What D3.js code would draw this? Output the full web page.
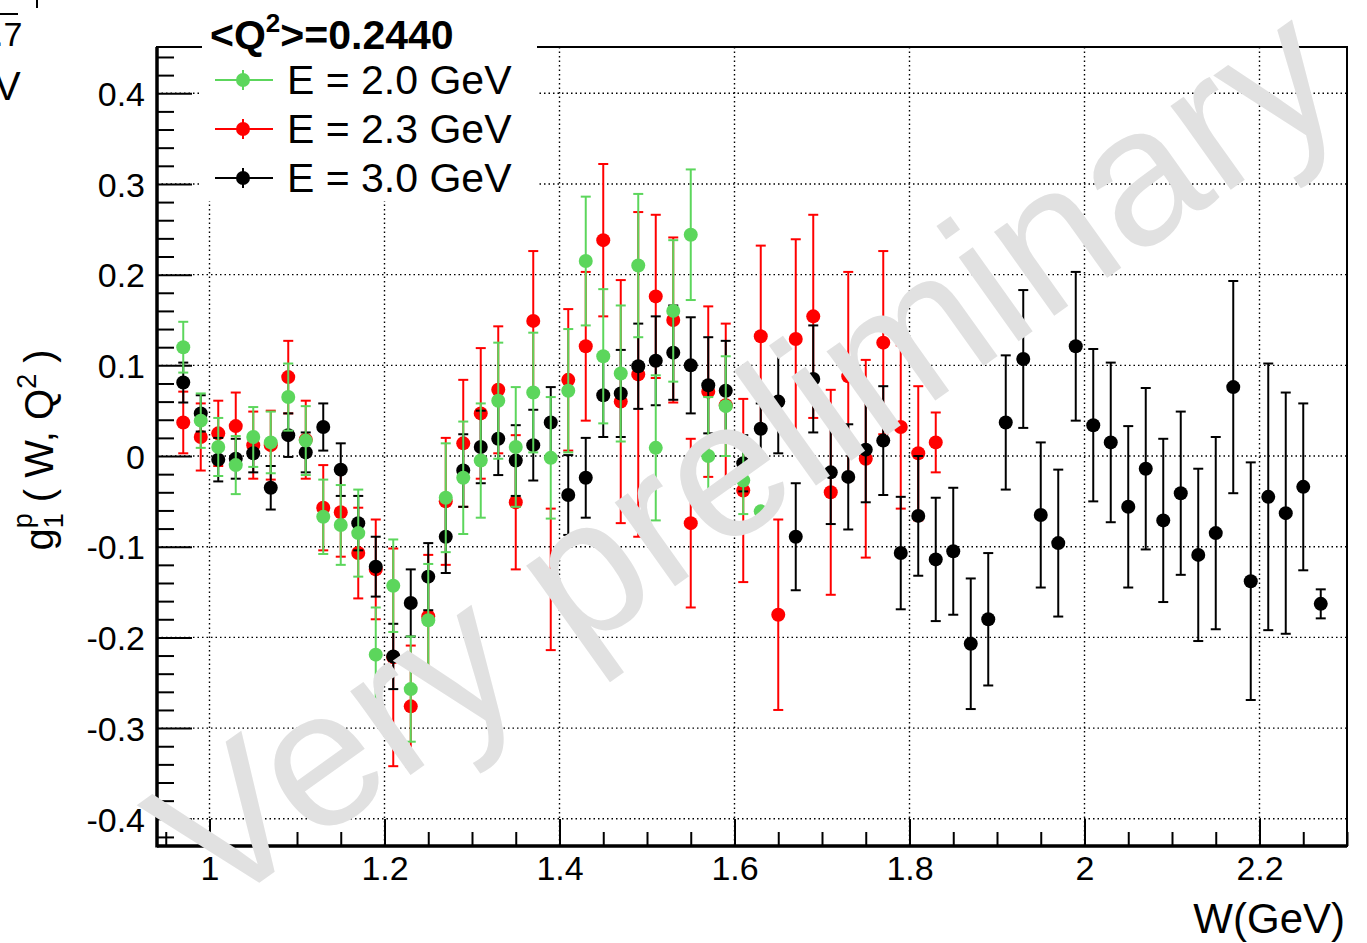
<!DOCTYPE html>
<html>
<head>
<meta charset="utf-8">
<script src="https://cdn.jsdelivr.net/npm/d3@7"></script>
<style>
  body { margin: 0; background: #fff; }
  svg text { font-family: "Liberation Sans", Arial, Helvetica, sans-serif; }
</style>
</head>
<body>
<svg id="chart" width="1367" height="943"></svg>
<script>
// W bin centres (GeV), shared by all three beam energies
const wBins = [0.97, 0.99, 1.01, 1.03, 1.05, 1.07, 1.09, 1.11, 1.13, 1.15, 1.17, 1.19, 1.21, 1.23, 1.25, 1.27, 1.29,
  1.31, 1.33, 1.35, 1.37, 1.39, 1.41, 1.43, 1.45, 1.47, 1.49, 1.51, 1.53, 1.55, 1.57, 1.59, 1.61, 1.63, 1.65, 1.67,
  1.69, 1.71, 1.73, 1.75, 1.77, 1.79, 1.81, 1.83, 1.85, 1.87, 1.89, 1.91, 1.93, 1.95, 1.97, 1.99, 2.01, 2.03, 2.05,
  2.07, 2.09, 2.11, 2.13, 2.15, 2.17, 2.19, 2.21, 2.23, 2.25, 2.27];

// E = 2.0 GeV
const g1Green = [0.120, 0.039, 0.010, -0.010, 0.021, 0.015, 0.065, 0.017, -0.067, -0.076, -0.085, -0.219, -0.143,
  -0.257, -0.181, -0.046, -0.024, -0.005, 0.061, 0.010, 0.070, -0.002, 0.072, 0.215, 0.110, 0.091, 0.210, 0.009,
  0.160, 0.244, 0.000, 0.055, -0.027, -0.061];
const errGreen = [0.028, 0.030, 0.032, 0.032, 0.033, 0.034, 0.037, 0.038, 0.041, 0.044, 0.048, 0.052, 0.051, 0.058,
  0.062, 0.060, 0.062, 0.063, 0.064, 0.066, 0.066, 0.067, 0.068, 0.071, 0.074, 0.075, 0.079, 0.080, 0.078, 0.072,
  0.065, 0.055, 0.037, 0.004];

// E = 2.3 GeV
const g1Red = [0.037, 0.021, 0.025, 0.033, 0.012, 0.012, 0.087, 0.018, -0.057, -0.062, -0.107, -0.125, -0.222,
  -0.276, -0.177, -0.050, 0.014, 0.047, 0.073, -0.051, 0.149, -0.136, 0.084, 0.121, 0.238, 0.060, 0.090, 0.176,
  0.150, -0.074, 0.071, 0.056, -0.038, 0.132, -0.175, 0.129, 0.154, -0.040, 0.088, -0.003, 0.125, 0.032, 0.003, 0.015];
const errRed = [0.034, 0.037, 0.036, 0.037, 0.037, 0.038, 0.040, 0.043, 0.047, 0.049, 0.050, 0.055, 0.120, 0.067,
  0.068, 0.070, 0.070, 0.072, 0.070, 0.074, 0.077, 0.078, 0.078, 0.082, 0.084, 0.134, 0.179, 0.090, 0.091, 0.093,
  0.094, 0.090, 0.101, 0.100, 0.105, 0.110, 0.112, 0.113, 0.115, 0.109, 0.101, 0.090, 0.074, 0.033];

// E = 3.0 GeV
const g1Black = [0.081, 0.047, -0.004, -0.003, 0.003, -0.035, 0.023, 0.004, 0.032, -0.015, -0.074, -0.122, -0.221,
  -0.162, -0.133, -0.089, -0.016, 0.010, 0.019, -0.005, 0.012, 0.037, -0.043, -0.024, 0.067, 0.069, 0.099, 0.105,
  0.114, 0.100, 0.078, 0.072, -0.008, 0.030, 0.060, -0.089, 0.085, -0.018, -0.023, 0.007, 0.017, -0.107, -0.066,
  -0.114, -0.105, -0.207, -0.180, 0.037, 0.107, -0.065, -0.096, 0.121, 0.034, 0.015, -0.056, -0.014, -0.071, -0.041,
  -0.109, -0.085, 0.076, -0.138, -0.045, -0.063, -0.034, -0.163];
const errBlack = [0.022, 0.020, 0.024, 0.022, 0.021, 0.024, 0.024, 0.022, 0.026, 0.029, 0.030, 0.033, 0.036, 0.037,
  0.037, 0.040, 0.040, 0.040, 0.040, 0.039, 0.039, 0.039, 0.044, 0.044, 0.046, 0.048, 0.047, 0.049, 0.052, 0.053,
  0.053, 0.055, 0.031, 0.028, 0.057, 0.059, 0.059, 0.057, 0.058, 0.058, 0.060, 0.062, 0.066, 0.068, 0.070, 0.072,
  0.073, 0.074, 0.076, 0.080, 0.081, 0.082, 0.084, 0.088, 0.089, 0.089, 0.090, 0.090, 0.095, 0.106, 0.117, 0.131,
  0.147, 0.133, 0.092, 0.016];

const seriesNames = ['E = 2.0 GeV', 'E = 2.3 GeV', 'E = 3.0 GeV'];
const seriesColors = ['#5cd65c', '#ff0000', '#000000'];
const legendTitle = '0.2440';

const xMajor = [1, 1.2, 1.4, 1.6, 1.8, 2, 2.2];
const xMinor = [0.95, 1.05, 1.1, 1.15, 1.25, 1.3, 1.35, 1.45, 1.5, 1.55, 1.65, 1.7, 1.75, 1.85, 1.9, 1.95, 2.05, 2.1,
  2.15, 2.25, 2.3];
const yMajor = [-0.4, -0.3, -0.2, -0.1, 0, 0.1, 0.2, 0.3, 0.4];
const yMinor = [-0.42, -0.38, -0.36, -0.34, -0.32, -0.28, -0.26, -0.24, -0.22, -0.18, -0.16, -0.14, -0.12, -0.08,
  -0.06, -0.04, -0.02, 0.02, 0.04, 0.06, 0.08, 0.12, 0.14, 0.16, 0.18, 0.22, 0.24, 0.26, 0.28, 0.32, 0.34, 0.36,
  0.38, 0.42, 0.44];

function buildSeries(values, errors) {
  return values.map((v, i) => ({ w: wBins[i], v: v, e: errors[i] }));
}

// ROOT style labels: plain hyphen, "0" instead of "0.0"
function yLabel(d) {
  return d === 0 ? '0' : d3.format('.1f')(d).replace('\u2212', '-');
}

function drawChart() {
  const svg = d3.select('#chart');
  const frame = { left: 157, right: 1347, top: 47, bottom: 846 };

  const x = d3.scaleLinear().domain([0.94, 2.30]).range([frame.left, frame.right]);
  const y = d3.scaleLinear().domain([-0.430, 0.451]).range([frame.bottom, frame.top]);

  // dotted grid
  const grid = svg.append('g').attr('stroke', '#000').attr('stroke-width', 1.4).attr('stroke-dasharray', '1.5,3');
  grid.selectAll('.gx').data(xMajor).enter().append('line')
    .attr('x1', d => x(d)).attr('x2', d => x(d)).attr('y1', frame.top).attr('y2', frame.bottom);
  grid.selectAll('.gy').data(yMajor).enter().append('line')
    .attr('x1', frame.left).attr('x2', frame.right).attr('y1', d => y(d)).attr('y2', d => y(d));

  // axes, ROOT style: ticks pointing into the frame
  const yAxis = svg.append('g').attr('transform', `translate(${frame.left},0)`)
    .call(d3.axisLeft(y).tickValues(yMajor).tickSize(-35).tickPadding(12).tickFormat(yLabel));
  svg.append('g').attr('transform', `translate(${frame.left},0)`)
    .call(d3.axisLeft(y).tickValues(yMinor).tickSize(-17).tickFormat(''));
  svg.append('g').attr('transform', `translate(0,${frame.bottom})`)
    .call(d3.axisBottom(x).tickValues(xMajor).tickSize(-27).tickPadding(10).tickFormat(d => String(d)));
  svg.append('g').attr('transform', `translate(0,${frame.bottom})`)
    .call(d3.axisBottom(x).tickValues(xMinor).tickSize(-14).tickFormat(''));

  svg.selectAll('.domain').remove();
  svg.selectAll('.tick line').attr('stroke', '#000').attr('stroke-width', 2);
  svg.selectAll('.tick text').attr('font-size', 34).attr('fill', '#000')
    .attr('font-family', '"Liberation Sans", Arial, sans-serif');
  yAxis.selectAll('.tick text').attr('dy', '0.36em');

  // frame
  svg.append('rect')
    .attr('x', frame.left).attr('y', frame.top)
    .attr('width', frame.right - frame.left).attr('height', frame.bottom - frame.top)
    .attr('fill', 'none').attr('stroke', '#000').attr('stroke-width', 2);
  svg.append('line').attr('x1', frame.left).attr('x2', frame.left).attr('y1', frame.top).attr('y2', frame.bottom + 1.5)
    .attr('stroke', '#000').attr('stroke-width', 3.5);
  svg.append('line').attr('x1', frame.left).attr('x2', frame.right).attr('y1', frame.bottom).attr('y2', frame.bottom)
    .attr('stroke', '#000').attr('stroke-width', 3.5);

  // data with error bars
  const sets = [
    { color: seriesColors[1], data: buildSeries(g1Red, errRed) },
    { color: seriesColors[2], data: buildSeries(g1Black, errBlack) },
    { color: seriesColors[0], data: buildSeries(g1Green, errGreen) }
  ];
  sets.forEach(s => {
    const g = svg.append('g').attr('stroke', s.color).attr('fill', s.color).attr('stroke-width', 2);
    const pts = g.selectAll('.pt').data(s.data).enter().append('g');
    pts.append('line')
      .attr('x1', d => x(d.w)).attr('x2', d => x(d.w))
      .attr('y1', d => y(d.v + d.e)).attr('y2', d => y(d.v - d.e));
    pts.append('line')
      .attr('x1', d => x(d.w) - 5).attr('x2', d => x(d.w) + 5)
      .attr('y1', d => y(d.v + d.e)).attr('y2', d => y(d.v + d.e));
    pts.append('line')
      .attr('x1', d => x(d.w) - 5).attr('x2', d => x(d.w) + 5)
      .attr('y1', d => y(d.v - d.e)).attr('y2', d => y(d.v - d.e));
    pts.append('circle')
      .attr('cx', d => x(d.w)).attr('cy', d => y(d.v)).attr('r', 7).attr('stroke', 'none');
  });

  // watermark, painted over the data
  svg.append('text')
    .attr('x', 214).attr('y', 915)
    .attr('transform', 'rotate(-35.5,214,915)')
    .attr('font-size', 195)
    .attr('fill', '#e1e1e1')
    .text('Very preliminary');

  // legend box
  const leg = svg.append('g');
  leg.append('rect').attr('x', 202).attr('y', 8).attr('width', 335).attr('height', 193).attr('fill', '#fff');
  leg.append('text').attr('x', 210).attr('y', 49).attr('font-size', 41).attr('font-weight', 'bold')
    .call(t => {
      t.append('tspan').text('<Q');
      t.append('tspan').attr('font-size', 26).attr('dy', -17).text('2');
      t.append('tspan').attr('dy', 17).text('>=' + legendTitle);
    });
  const rows = [80, 129, 178];
  seriesNames.forEach((name, i) => {
    const cy = rows[i];
    leg.append('line').attr('x1', 215).attr('x2', 273).attr('y1', cy).attr('y2', cy)
      .attr('stroke', seriesColors[i]).attr('stroke-width', 2);
    leg.append('line').attr('x1', 243).attr('x2', 243).attr('y1', cy - 10).attr('y2', cy + 10)
      .attr('stroke', seriesColors[i]).attr('stroke-width', 2);
    leg.append('circle').attr('cx', 243).attr('cy', cy).attr('r', 7).attr('fill', seriesColors[i]);
    leg.append('text').attr('x', 287).attr('y', cy + 14).attr('font-size', 41).text(name);
  });

  // axis titles
  svg.append('text').attr('x', 1345).attr('y', 933).attr('text-anchor', 'end').attr('font-size', 42).text('W(GeV)');
  svg.append('text').attr('transform', 'translate(53,450) rotate(-90)').attr('text-anchor', 'middle')
    .attr('font-size', 40)
    .call(t => {
      t.append('tspan').text('g');
      t.append('tspan').attr('font-size', 27).attr('dy', 10).text('1');
      t.append('tspan').attr('font-size', 27).attr('dx', -15).attr('dy', -31).text('p');
      t.append('tspan').attr('dy', 21).text(' ( W, Q');
      t.append('tspan').attr('font-size', 27).attr('dy', -17).text('2');
      t.append('tspan').attr('dy', 17).text(' )');
    });

  // clipped labels from the neighbouring panel at the top-left corner
  svg.append('line').attr('x1', 0).attr('x2', 18).attr('y1', 14).attr('y2', 14).attr('stroke', '#000').attr('stroke-width', 2);
  svg.append('line').attr('x1', 37).attr('x2', 37).attr('y1', 0).attr('y2', 8).attr('stroke', '#000').attr('stroke-width', 2);
  svg.append('text').attr('x', -6).attr('y', 46).attr('font-size', 34).text('.7');
  svg.append('text').attr('x', -6).attr('y', 100).attr('font-size', 40).text('V');
}

drawChart();
</script>
</body>
</html>
